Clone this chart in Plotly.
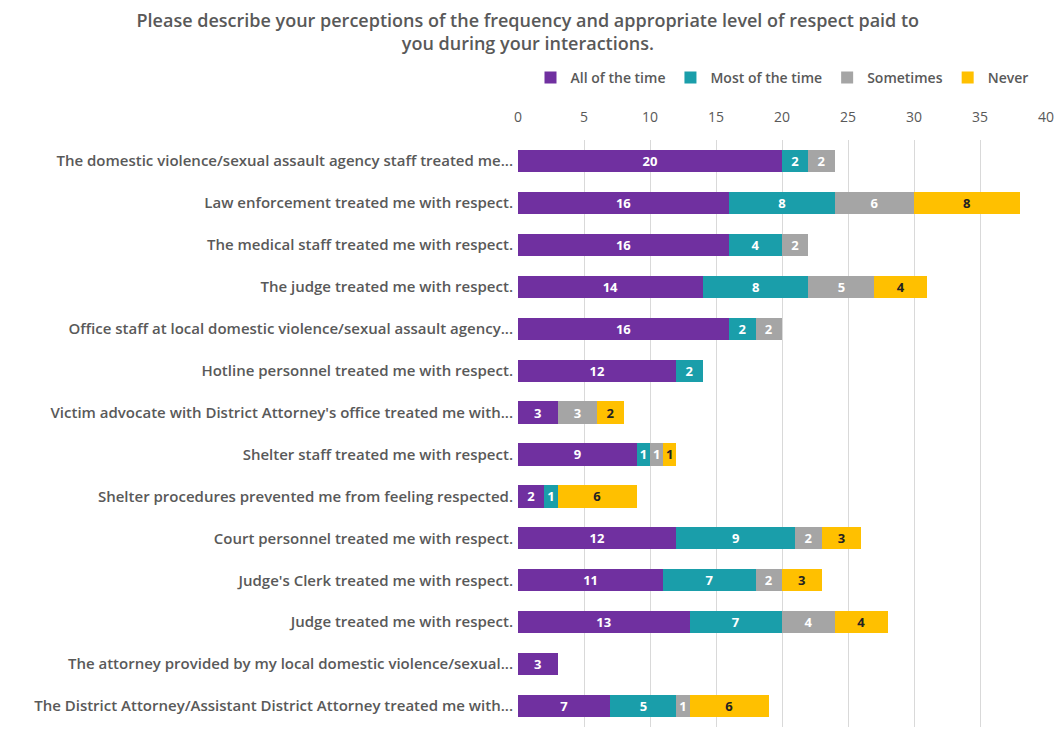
import plotly.graph_objects as go

categories = [
    "The domestic violence/sexual assault agency staff treated me...",
    "Law enforcement treated me with respect.",
    "The medical staff treated me with respect.",
    "The judge treated me with respect.",
    "Office staff at local domestic violence/sexual assault agency...",
    "Hotline personnel treated me with respect.",
    "Victim advocate with District Attorney's office treated me with...",
    "Shelter staff treated me with respect.",
    "Shelter procedures prevented me from feeling respected.",
    "Court personnel treated me with respect.",
    "Judge's Clerk treated me with respect.",
    "Judge treated me with respect.",
    "The attorney provided by my local domestic violence/sexual...",
    "The District Attorney/Assistant District Attorney treated me with...",
]

all_of_the_time = [20, 16, 16, 14, 16, 12, 3, 9, 2, 12, 11, 13, 3, 7]
most_of_the_time = [2, 8, 4, 8, 2, 2, 0, 1, 1, 9, 7, 7, 0, 5]
sometimes = [2, 6, 2, 5, 2, 0, 3, 1, 0, 2, 2, 4, 0, 1]
never = [0, 8, 0, 4, 0, 0, 2, 1, 6, 3, 3, 4, 0, 6]

series = [
    ("All of the time", all_of_the_time, "#7030A0", "white"),
    ("Most of the time", most_of_the_time, "#1A9EAA", "white"),
    ("Sometimes", sometimes, "#A5A5A5", "white"),
    ("Never", never, "#FFC000", "#222222"),
]

FONT = "Open Sans"
GREY = "#595959"

fig = go.Figure()
for name, vals, color, tcolor in series:
    fig.add_trace(go.Bar(
        y=categories,
        x=vals,
        name=name,
        orientation="h",
        marker=dict(color=color, line=dict(width=0)),
        text=[str(v) if v else "" for v in vals],
        textposition="inside",
        insidetextanchor="middle",
        textangle=0,
        textfont=dict(family=FONT, size=13, color=tcolor, weight="bold"),
        width=0.53,
    ))

fig.update_layout(
    barmode="stack",
    width=1062,
    height=730,
    paper_bgcolor="white",
    plot_bgcolor="white",
    margin=dict(l=518, r=16, t=140, b=3),
    font=dict(family=FONT, color=GREY),
    uniformtext=dict(minsize=13, mode="show"),
    title=dict(
        text="Please describe your perceptions of the frequency and appropriate level of respect paid to<br>you during your interactions.",
        x=0.497,
        xanchor="center",
        xref="container",
        yref="container",
        y=0.963,
        yanchor="middle",
        font=dict(family=FONT, size=18, color=GREY, weight=600),
    ),
    legend=dict(
        orientation="h",
        x=0.5,
        xanchor="center",
        y=1.106,
        yanchor="middle",
        font=dict(family=FONT, size=14, color=GREY, weight=600),
        traceorder="normal",
        itemwidth=30,
    ),
    showlegend=True,
)

fig.update_xaxes(
    side="top",
    range=[0, 40],
    dtick=5,
    showgrid=True,
    gridcolor="#D9D9D9",
    gridwidth=1,
    zeroline=False,
    showline=False,
    ticks="",
    ticklabelstandoff=14,
    tickfont=dict(family=FONT, size=14, color=GREY),
)
fig.update_yaxes(
    autorange="reversed",
    showgrid=False,
    showline=False,
    ticks="",
    ticklabelstandoff=4,
    tickfont=dict(family=FONT, size=15, color=GREY, weight=600),
)

fig.write_html("out.html")
